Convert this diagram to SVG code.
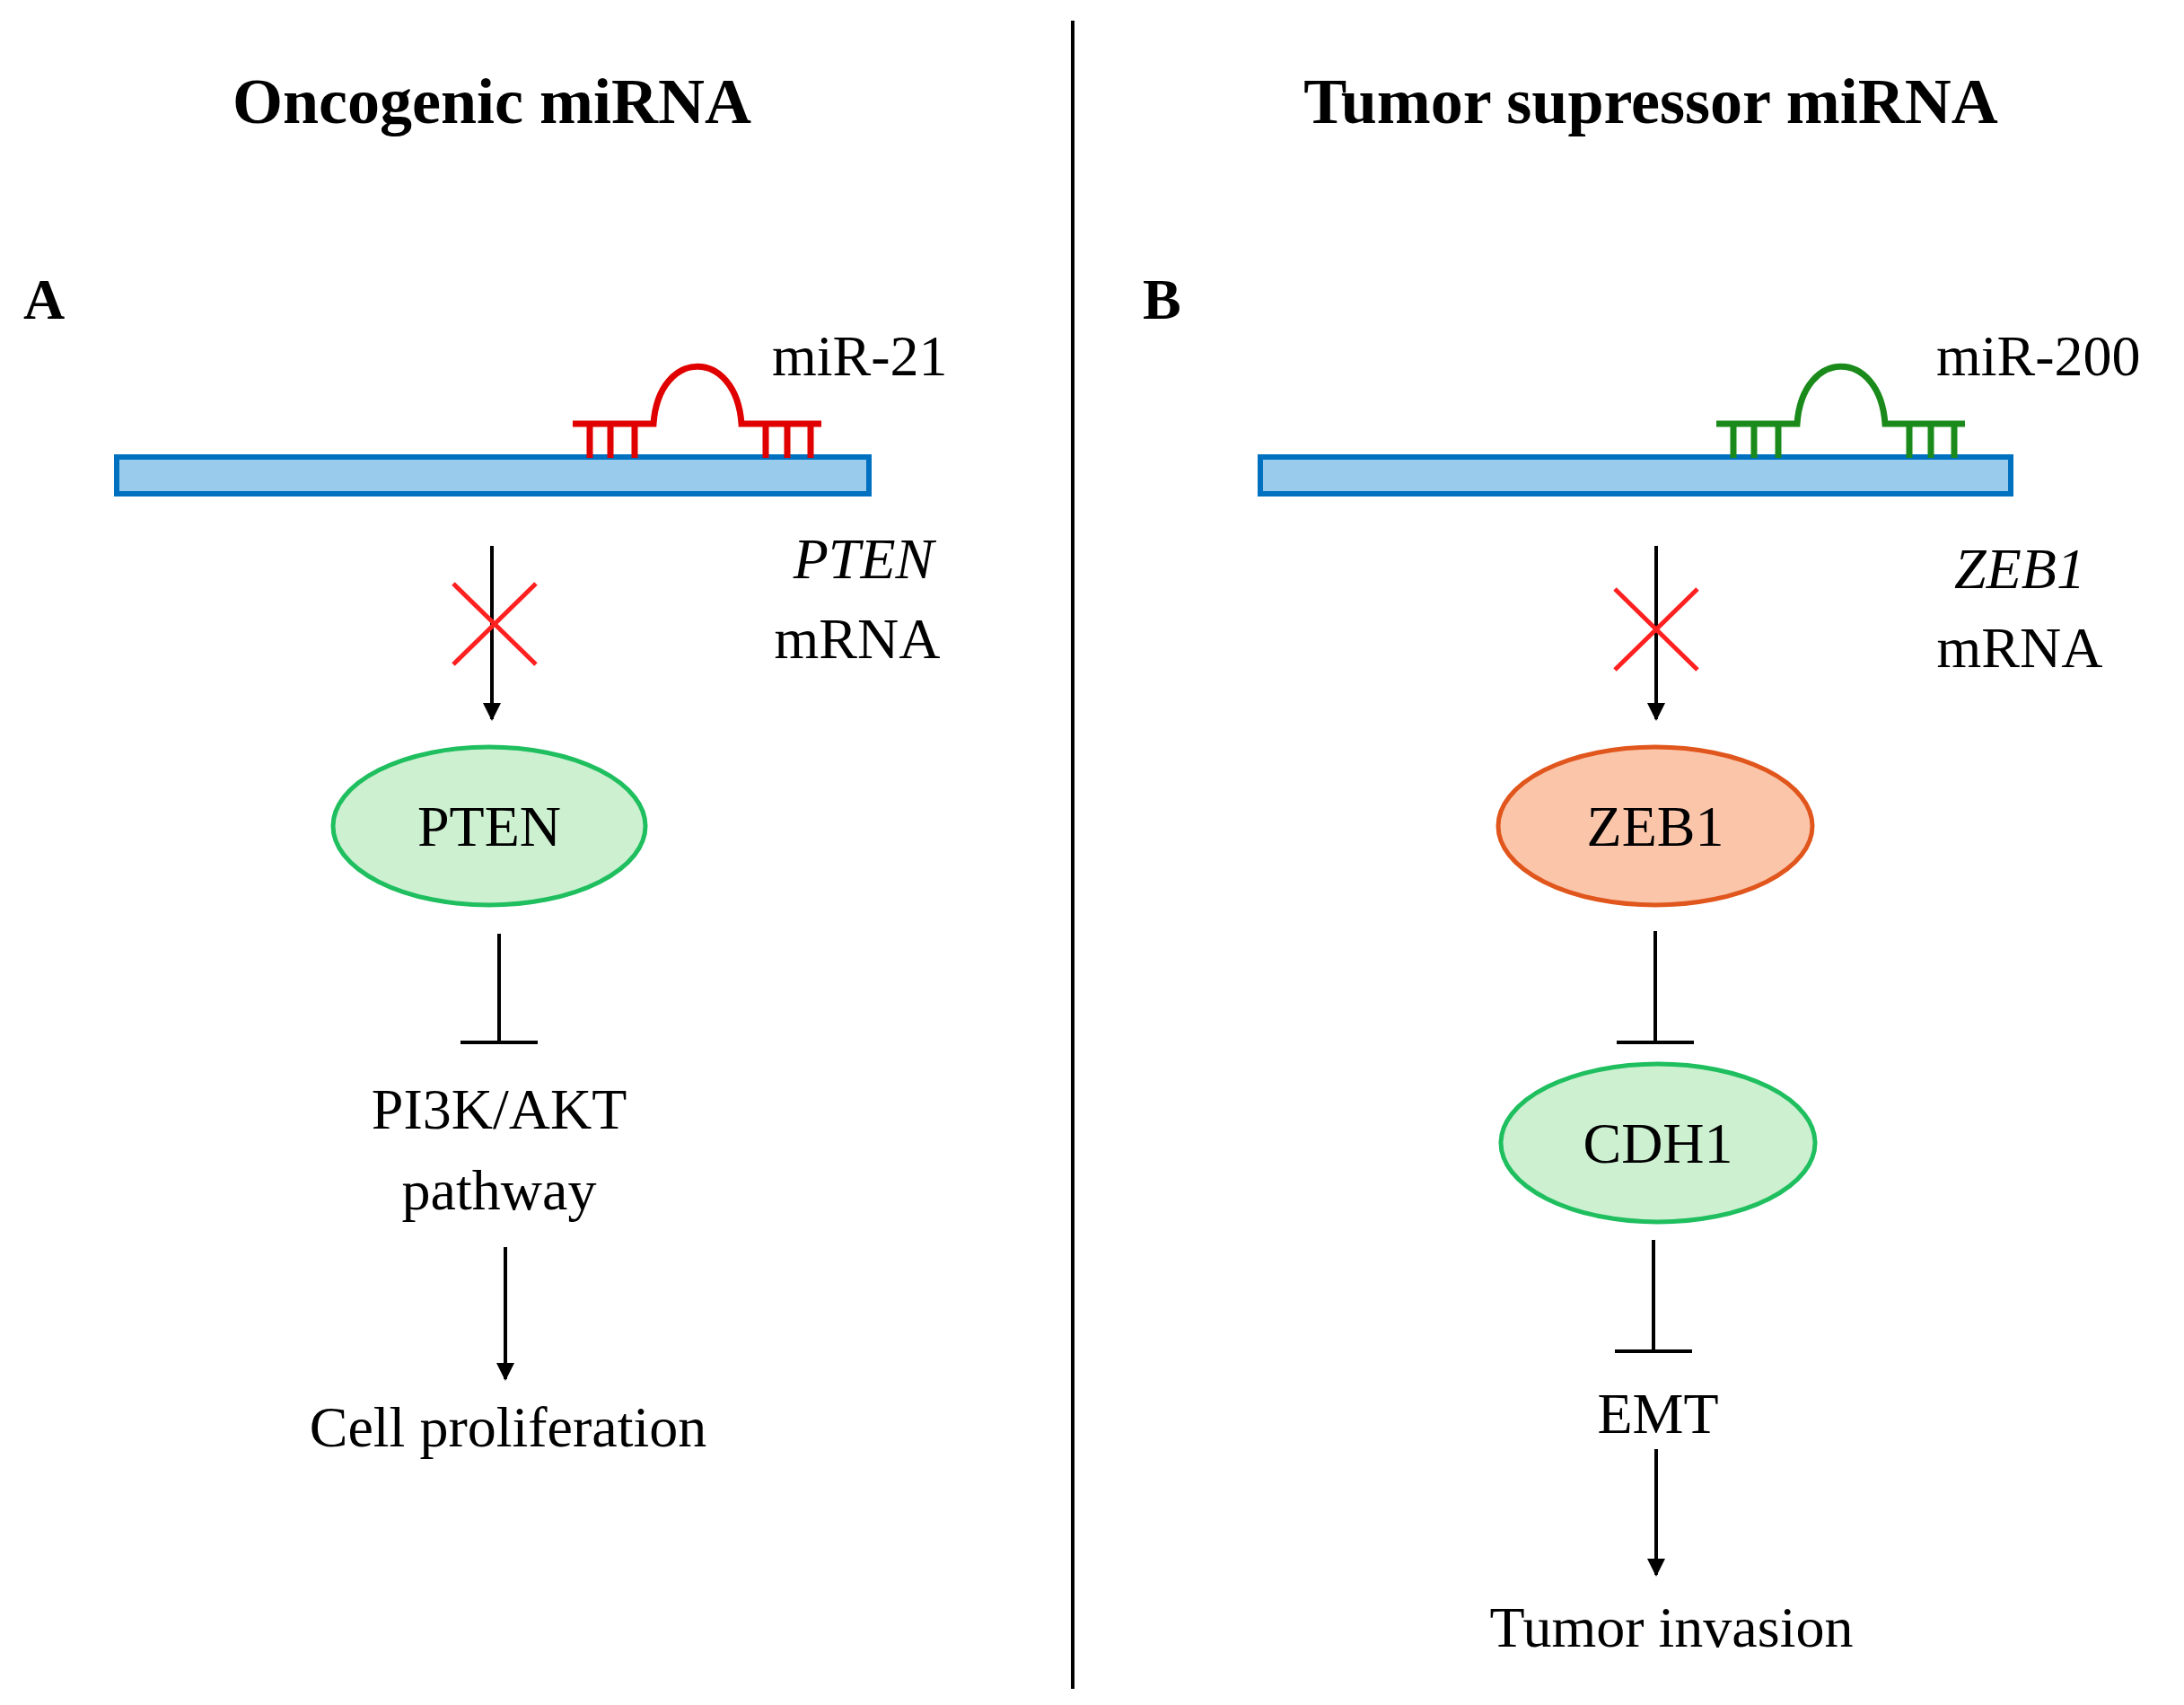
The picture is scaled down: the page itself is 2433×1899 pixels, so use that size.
<svg xmlns="http://www.w3.org/2000/svg" width="2433" height="1899" viewBox="0 0 2433 1899">
<defs>
<style>
text{font-family:"Liberation Serif","DejaVu Serif",serif;fill:#000}
.t{font-size:72px;font-weight:bold;text-anchor:middle}
.l{font-size:64px;font-weight:bold}
.b{font-size:64px;text-anchor:middle}
.i{font-style:italic}
.ln{stroke:#000;stroke-width:4;fill:none}
.bar{fill:#99cbec;stroke:#0070c0;stroke-width:6}
.x{stroke:#ff2020;stroke-width:5}
.g{fill:#ccf0d0;stroke:#1fbf5f;stroke-width:5}
.o{fill:#fbc5aa;stroke:#e0561c;stroke-width:5}
</style>
<marker id="ah" viewBox="0 0 10 10" refX="9" refY="5" markerWidth="5" markerHeight="5" orient="auto"><path d="M0,0L10,5L0,10z" fill="#000"/></marker>
<g id="mi"><path d="M-2,0H88C94,-85 180,-85 186,0H275M17,0V38M40,0V38M67,0V38M213,0V38M237,0V38M263,0V38" stroke-width="7" fill="none"/></g>
</defs>
<line x1="1195" y1="23" x2="1195" y2="1881" stroke="#000" stroke-width="4"/>
<text class="t" x="548" y="137">Oncogenic miRNA</text>
<text class="t" x="1839" y="137">Tumor supressor miRNA</text>
<text class="l" x="26" y="355">A</text>
<text class="l" x="1273" y="355">B</text>
<g id="A-mrna"><rect class="bar" x="130" y="509" width="838" height="41"/>
<text class="b i" x="962" y="644">PTEN</text><text class="b" x="955" y="733">mRNA</text></g>
<g id="A-mir" stroke="#e00000"><use href="#mi" x="640" y="472"/><text x="860" y="418" font-size="64" stroke="none">miR-21</text></g>
<g id="A-pten"><ellipse class="g" cx="545" cy="920" rx="174" ry="88"/><text class="b" x="545" y="942">PTEN</text></g>
<g id="A-pi3k"><text class="b" x="556" y="1257">PI3K/AKT</text><text class="b" x="556" y="1347">pathway</text></g>
<g id="A-cell"><text class="b" x="566" y="1611">Cell proliferation</text></g>
<g id="B-mrna"><rect class="bar" x="1404" y="509" width="836" height="41"/>
<text class="b i" x="2250" y="655">ZEB1</text><text class="b" x="2250" y="743">mRNA</text></g>
<g id="B-mir" stroke="#1a8a1a"><use href="#mi" x="1914" y="472"/><text x="2157" y="418" font-size="64" stroke="none">miR-200</text></g>
<g id="B-zeb1"><ellipse class="o" cx="1844" cy="920" rx="175" ry="88"/><text class="b" x="1844" y="942">ZEB1</text></g>
<g id="B-cdh1"><ellipse class="g" cx="1847" cy="1273" rx="175" ry="88"/><text class="b" x="1847" y="1295">CDH1</text></g>
<g id="B-emt"><text class="b" x="1847" y="1596">EMT</text></g>
<g id="B-inv"><text class="b" x="1862" y="1834">Tumor invasion</text></g>
<g id="connectors">
<line class="ln" x1="548" y1="608" x2="548" y2="801" marker-end="url(#ah)"/>
<path class="x" d="M505,650L597,740M597,650L505,740"/>
<path class="ln" d="M556,1040V1161M513,1161H599"/>
<line class="ln" x1="563" y1="1389" x2="563" y2="1536" marker-end="url(#ah)"/>
<line class="ln" x1="1845" y1="608" x2="1845" y2="801" marker-end="url(#ah)"/>
<path class="x" d="M1799,656L1891,746M1891,656L1799,746"/>
<path class="ln" d="M1844,1037V1161M1801,1161H1887"/>
<path class="ln" d="M1842,1381V1505M1799,1505H1885"/>
<line class="ln" x1="1845" y1="1614" x2="1845" y2="1754" marker-end="url(#ah)"/>
</g>
</svg>
